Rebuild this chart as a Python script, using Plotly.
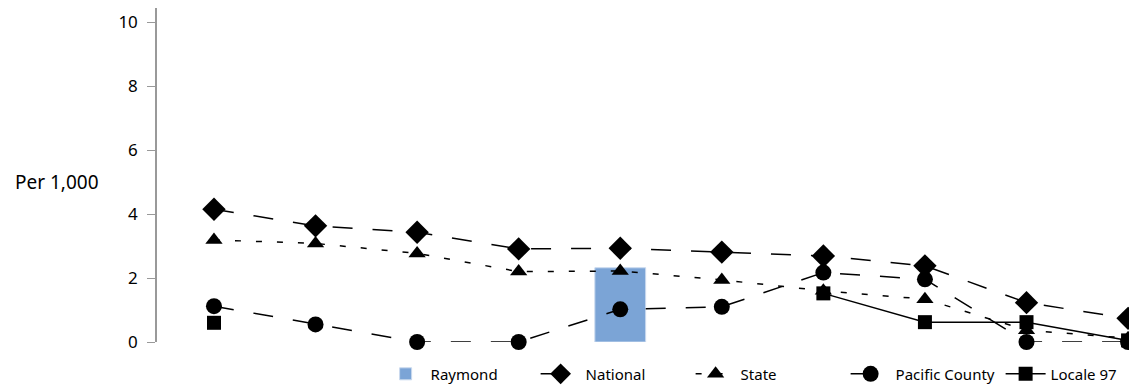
import plotly.graph_objects as go

categories = list(range(10))
raymond = [None, None, None, None, 2.32, None, None, None, None, None]
national = [4.15, 3.63, 3.43, 2.91, 2.93, 2.81, 2.69, 2.38, 1.23, 0.74]
state = [3.19, 3.08, 2.77, 2.2, 2.22, 1.94, 1.6, 1.34, 0.37, 0.12]
pacific = [1.12, 0.55, 0.0, 0.0, 1.02, 1.1, 2.17, 1.96, 0.0, 0.0]
locale97 = [0.6, None, None, None, None, None, 1.52, 0.62, 0.62, 0.05]

fnt = "Noto Sans"

fig = go.Figure()
fig.add_trace(go.Bar(x=categories, y=raymond, name="Raymond", width=0.5,
                     marker=dict(color="#7BA4D6", line=dict(color="#C9D9EE", width=1))))

lines = [
    ("National", national, "diamond", 18, "20px,20px"),
    ("State", state, "triangle-up", 15, "6px,15px"),
    ("Pacific County", pacific, "circle", 16, "20px,20px"),
    ("Locale 97", locale97, "square", 14, "solid"),
]
for name, vals, sym, sz, dash in lines:
    fig.add_trace(go.Scatter(
        x=categories, y=vals, name=name, mode="lines+markers",
        line=dict(color="black", width=1.5, dash=dash),
        marker=dict(symbol=sym, size=sz, color="black"),
        cliponaxis=False, connectgaps=False))

# y-axis title drawn horizontally, left of the ticks
fig.add_annotation(text="Per 1,000", x=-0.102, xref="paper", y=5.0, yref="y",
                   xanchor="center", showarrow=False,
                   font=dict(family=fnt, size=19, color="black"))

# page body has an 8px margin, so the figure is sized/offset to compensate
fig.update_layout(
    width=1129, height=378,
    margin=dict(l=149, r=0, t=0, b=44, autoexpand=False),
    plot_bgcolor="white", paper_bgcolor="white",
    font=dict(family=fnt, color="black"),
    showlegend=True,
    legend=dict(orientation="h", x=1.019, xanchor="right", y=-0.096, yanchor="middle",
                font=dict(size=15), traceorder="normal", itemwidth=40,
                entrywidth=100, entrywidthmode="pixels"),
    xaxis=dict(range=[-0.561, 9.088], showticklabels=False, showline=False,
               showgrid=False, zeroline=False, ticks=""),
    yaxis=dict(range=[0, 10.44], tickvals=[0, 2, 4, 6, 8, 10], showgrid=False,
               zeroline=False, showline=True, linecolor="#999999", linewidth=1.5,
               ticks="outside", ticklen=8, tickcolor="#999999",
               tickfont=dict(size=17), ticklabelstandoff=6),
)

fig.write_html("out.html")
